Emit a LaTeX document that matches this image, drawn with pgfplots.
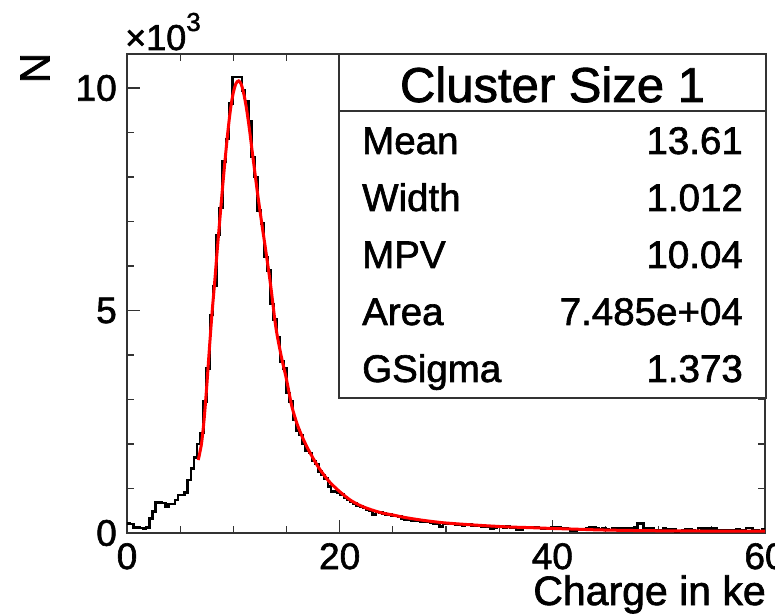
\documentclass[border=0pt]{standalone}
\usepackage{fontspec}
\setmainfont{Liberation Sans}[FakeBold=1.6]
\usepackage{pgfplots}
\pgfplotsset{compat=1.18}
\begin{document}
\begin{tikzpicture}
\begin{axis}[
  at={(127pt,80pt)}, anchor=south west,
  scale only axis, width=638pt, height=479pt,
  xmin=0, xmax=60, ymin=0, ymax=10764,
  axis line style={line width=1.3pt, black!80},
  xtick={0,20,40,60}, xticklabels={0,20,40,60},
  minor xtick={5,10,15,25,30,35,45,50,55},
  ytick={0,5000,10000}, yticklabels={0,5,10},
  minor ytick={1000,2000,3000,4000,6000,7000,8000,9000},
  scaled ticks=false,
  tick align=inside,
  major tick length=13pt, minor tick length=7pt,
  every tick/.style={black!80, line width=1.3pt},
  tick label style={font=\fontsize{37}{37}\selectfont, inner sep=0pt},
  xticklabel style={anchor=north, yshift=-10pt},
  yticklabel style={anchor=east, xshift=-10pt},
  /pgf/number format/assume math mode=true,
]
\addplot[const plot mark left, black, line width=2.6pt, mark=none] table {
x y
0.0 220
0.3 200
0.6 130
0.9 120
1.2 110
1.5 105
1.8 130
2.1 330
2.4 480
2.7 680
3.0 680
3.3 670
3.6 590
3.9 650
4.2 650
4.5 740
4.8 850
5.1 850
5.4 905
5.7 1190
6.0 1450
6.3 1700
6.6 2000
6.9 2250
7.2 2950
7.5 3700
7.8 4900
8.1 5550
8.4 6700
8.7 7300
9.0 8350
9.3 8850
9.6 9650
9.9 10250
10.2 10250
10.5 10250
10.8 9950
11.1 9700
11.4 9250
11.7 8450
12.0 8000
12.3 7250
12.6 6950
12.9 6200
13.2 5900
13.5 5150
13.8 4800
14.1 4400
14.4 3850
14.7 3700
15.0 3150
15.3 2950
15.6 2550
15.9 2300
16.2 2200
16.5 2000
16.8 1850
17.1 1800
17.4 1620
17.7 1550
18.0 1380
18.3 1300
18.6 1230
18.9 1050
19.2 930
19.5 930
19.8 900
20.1 860
20.4 800
20.7 740
21.0 700
21.3 660
21.6 620
21.9 590
22.2 560
22.5 520
22.8 500
23.1 420
23.4 470
23.7 455
24.0 440
24.3 420
24.6 430
24.9 390
25.2 380
25.5 370
25.8 330
26.1 300
26.4 300
26.7 280
27.0 270
27.3 275
27.6 265
27.9 250
28.2 260
28.5 225
28.8 220
29.1 230
29.4 150
29.7 200
30.0 200
30.3 210
30.6 205
30.9 190
31.2 180
31.5 175
31.8 185
32.1 190
32.4 170
32.7 165
33.0 160
33.3 150
33.6 150
33.9 140
34.2 105
34.5 110
34.8 140
35.1 135
35.4 130
35.7 140
36.0 120
36.3 110
36.6 70
36.9 70
37.2 110
37.5 115
37.8 125
38.1 125
38.4 120
38.7 110
39.0 100
39.3 105
39.6 110
39.9 125
40.2 125
40.5 130
40.8 100
41.1 95
41.4 90
41.7 50
42.0 50
42.3 85
42.6 90
42.9 80
43.2 95
43.5 125
43.8 125
44.1 110
44.4 90
44.7 95
45.0 75
45.3 70
45.6 100
45.9 110
46.2 115
46.5 110
46.8 105
47.1 115
47.4 110
47.7 120
48.0 215
48.3 215
48.6 110
48.9 100
49.2 105
49.5 60
49.8 50
50.1 50
50.4 95
50.7 90
51.0 85
51.3 80
51.6 40
51.9 45
52.2 50
52.5 90
52.8 85
53.1 50
53.4 45
53.7 110
54.0 105
54.3 100
54.6 95
54.9 100
55.2 95
55.5 70
55.8 65
56.1 60
56.4 55
56.7 50
57.0 60
57.3 80
57.6 60
57.9 70
58.2 110
58.5 115
58.8 60
59.1 50
59.4 45
59.7 90
60.0 90
};
\addplot[red, line width=3pt, smooth, mark=none] coordinates {
(6.7,1640) (7.0,2000) (7.25,2550) (7.5,3300) (7.75,4150) (8.0,4950)
(8.25,5650) (8.5,6400) (8.75,7100) (9.0,7800) (9.25,8450) (9.5,9050)
(9.75,9550) (10.0,9900) (10.25,10100) (10.5,10160) (10.75,10080)
(11.0,9850) (11.25,9520) (11.5,9100) (11.75,8620) (12.0,8150)
(12.25,7680) (12.5,7250) (12.75,6830) (13.0,6430) (13.5,5580)
(14.0,4620) (14.5,3980) (15.0,3450) (15.5,2850) (16.0,2450)
(16.5,2150) (17.0,1900) (17.5,1680) (18.0,1480) (18.5,1310)
(19.0,1160) (19.5,1040) (20.0,930) (21,740) (22,610) (23,520)
(24,450) (25,405) (26,355) (27,315) (28,280) (29,250) (30,225)
(32,190) (34,160) (36,135) (38,120) (40,102) (42,88) (44,72)
(46,62) (48,55) (50,50) (53,46) (56,43) (60,40)
};
\end{axis}
% statistics box
\draw[line width=1.3pt, draw=black!80, fill=white] (339pt,215pt) rectangle (766pt,559pt);
\draw[line width=1.3pt, black!80] (339pt,502pt) -- (766pt,502pt);
\node[anchor=base, inner sep=0pt, font=\fontsize{49}{49}\selectfont] at (552.5pt,511pt) {Cluster Size 1};
\begin{scope}[every node/.style={inner sep=0pt, font=\fontsize{38.5}{38.5}\selectfont}]
\node[anchor=base west] at (362pt,459pt) {Mean};
\node[anchor=base east] at (743pt,459pt) {13.61};
\node[anchor=base west] at (362pt,402pt) {Width};
\node[anchor=base east] at (743pt,402pt) {1.012};
\node[anchor=base west] at (362pt,345pt) {MPV};
\node[anchor=base east] at (743pt,345pt) {10.04};
\node[anchor=base west] at (362pt,288pt) {Area};
\node[anchor=base east] at (743pt,288pt) {7.485e+04};
\node[anchor=base west] at (362pt,231pt) {GSigma};
\node[anchor=base east] at (743pt,231pt) {1.373};
\end{scope}
% axis titles
\node[rotate=90, inner sep=0pt, font=\fontsize{42}{42}\selectfont] at (35pt,545pt) {N};
\node[anchor=base west, inner sep=0pt] at (125pt,563pt) {\fontsize{36}{36}\selectfont ×10\raisebox{19pt}{\fontsize{26}{26}\selectfont 3}};
\node[anchor=base east, inner sep=0pt, font=\fontsize{41}{41}\selectfont] at (766pt,8pt) {Charge in ke};
\pgfresetboundingbox
\useasboundingbox (0pt,0pt) rectangle (775pt,613pt);
\end{tikzpicture}
\end{document}
